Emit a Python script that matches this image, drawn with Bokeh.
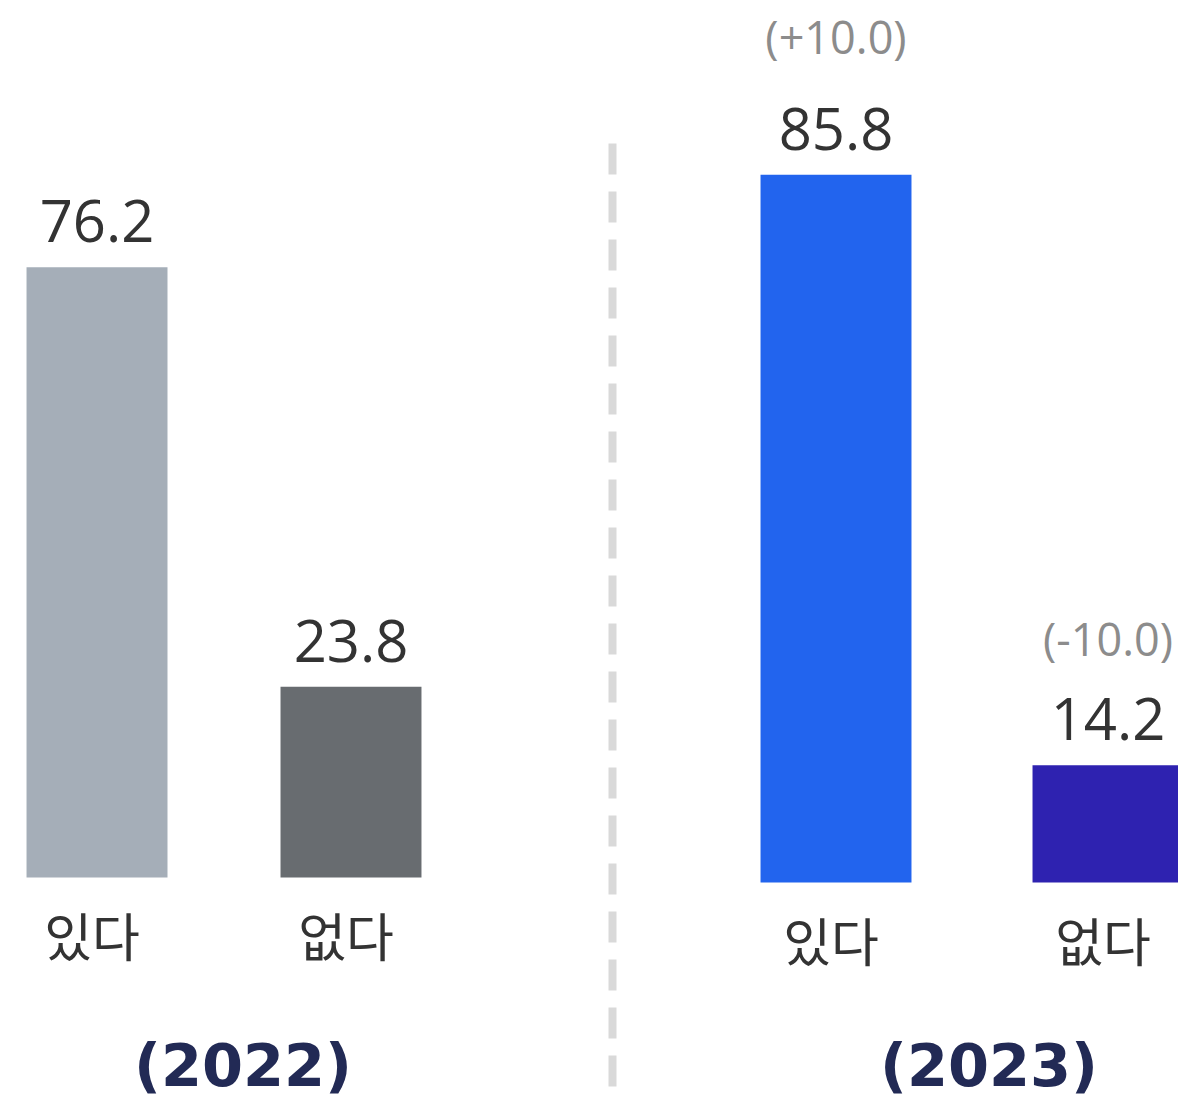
from bokeh.plotting import figure
from bokeh.layouts import row
from bokeh.models import ColumnDataSource, Range1d
from bokeh.core.properties import value
from bokeh.embed import file_html
from bokeh.resources import INLINE

# ---- data ----
CATEGORIES = ["있다", "없다"]
YEARS = ["(2022)", "(2023)"]
VALUES_2022 = [76.2, 23.8]
VALUES_2023 = [85.8, 14.2]
CHANGE_2023 = ["(+10.0)", "(-10.0)"]

# ---- styles ----
COLORS_2022 = ["#A5AEB8", "#686C70"]
COLORS_2023 = ["#2264EE", "#2E22B0"]
NUM_FONT = "Open Sans"
KR_FONT = "Noto Sans CJK KR"
YEAR_FONT = "DejaVu Sans"
VALUE_COLOR = "#333333"
CHANGE_COLOR = "#8C8C8C"
YEAR_COLOR = "#222A55"
BAR_WIDTH = 0.555


def make_panel(values, colors, year, width, x_range, y_range, year_dx, year_dy,
               changes=None, change_dy=None):
    p = figure(width=width, height=1102, output_backend="svg", toolbar_location=None,
               x_range=Range1d(*x_range), y_range=Range1d(*y_range),
               min_border=0, min_border_left=0, min_border_right=0,
               min_border_top=0, min_border_bottom=0)
    p.outline_line_color = None
    p.xaxis.visible = False
    p.yaxis.visible = False
    p.xgrid.visible = False
    p.ygrid.visible = False
    p.background_fill_color = "white"
    p.border_fill_color = "white"

    idx = list(range(len(values)))
    src = ColumnDataSource(dict(
        x=idx, top=values, color=colors, cat=CATEGORIES,
        label=[f"{v:.1f}" for v in values],
        zero=[0] * len(values),
    ))
    p.vbar(x="x", top="top", bottom=0, width=BAR_WIDTH, fill_color="color",
           line_color=None, source=src)
    p.text(x="x", y="top", text="label", source=src, text_font=value(NUM_FONT),
           text_font_size="58px", text_color=VALUE_COLOR, text_align="center",
           text_baseline="alphabetic", y_offset=-46)
    p.text(x="x", y="zero", text="cat", source=src, text_font=value(KR_FONT),
           text_font_size="52px", text_color=VALUE_COLOR, text_align="center",
           text_baseline="alphabetic", y_offset=57, x_offset=-5)
    if changes is not None:
        csrc = ColumnDataSource(dict(x=idx, y=values, t=changes, dy=change_dy))
        p.text(x="x", y="y", text="t", source=csrc, text_font=value(NUM_FONT),
               text_font_size="45px", text_color=CHANGE_COLOR, text_align="center",
               text_baseline="alphabetic", y_offset="dy")
    ysrc = ColumnDataSource(dict(x=[(idx[0] + idx[-1]) / 2], y=[0], t=[year]))
    p.text(x="x", y="y", text="t", source=ysrc, text_font=value(YEAR_FONT),
           text_font_style="bold", text_font_size="59px", text_color=YEAR_COLOR,
           text_align="center", text_baseline="alphabetic", x_offset=year_dx,
           y_offset=year_dy)
    return p


left = make_panel(VALUES_2022, COLORS_2022, YEARS[0], 590,
                  (-0.380, 1.943), (-225 / 8.01, 877 / 8.01), 19, 188)
right = make_panel(VALUES_2023, COLORS_2023, YEARS[1], 588,
                   (-0.9026, 1.2592), (-220 / 8.25, 882 / 8.25), 17, 183,
                   changes=CHANGE_2023, change_dy=[-138, -127])

# dashed separator between the two years
right.segment(x0=[-0.8217], y0=[(882 - 143) / 8.25], x1=[-0.8217], y1=[-(1087 - 882) / 8.25],
              line_color="#D9D9D9", line_width=8, line_dash="31 17", line_cap="butt")

layout = row(left, right, spacing=0)
open("out.html", "w").write(file_html(layout, INLINE))
